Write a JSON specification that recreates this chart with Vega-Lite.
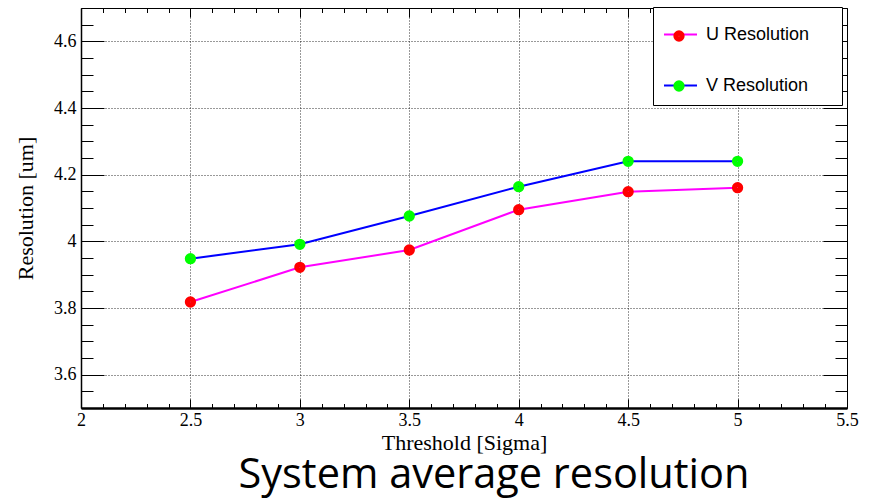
{
  "$schema": "https://vega.github.io/schema/vega-lite/v6.json",
  "width": 766,
  "height": 400,
  "autosize": {"type": "none"},
  "padding": {"left": 81, "top": 8, "right": 24, "bottom": 92},
  "background": "white",
  "config": {"view": {"stroke": null}},
  "title": {
    "text": "System average resolution",
    "orient": "bottom",
    "anchor": "middle",
    "font": "Open Sans",
    "fontSize": 41.5,
    "fontWeight": "normal",
    "color": "black",
    "dx": 30,
    "offset": 2
  },
  "data": {
    "values": [
      {"threshold": 2.5, "resolution": 3.818, "series": "U Resolution"},
      {"threshold": 3.0, "resolution": 3.922, "series": "U Resolution"},
      {"threshold": 3.5, "resolution": 3.974, "series": "U Resolution"},
      {"threshold": 4.0, "resolution": 4.095, "series": "U Resolution"},
      {"threshold": 4.5, "resolution": 4.149, "series": "U Resolution"},
      {"threshold": 5.0, "resolution": 4.161, "series": "U Resolution"},
      {"threshold": 2.5, "resolution": 3.948, "series": "V Resolution"},
      {"threshold": 3.0, "resolution": 3.991, "series": "V Resolution"},
      {"threshold": 3.5, "resolution": 4.076, "series": "V Resolution"},
      {"threshold": 4.0, "resolution": 4.164, "series": "V Resolution"},
      {"threshold": 4.5, "resolution": 4.240, "series": "V Resolution"},
      {"threshold": 5.0, "resolution": 4.240, "series": "V Resolution"}
    ]
  },
  "resolve": {"axis": {"x": "independent", "y": "independent"}},
  "layer": [
    {
      "mark": {"type": "line", "strokeWidth": 2},
      "encoding": {
        "x": {
          "field": "threshold", "type": "quantitative",
          "scale": {"domain": [2, 5.5], "nice": false, "zero": false},
          "axis": {
            "orient": "bottom", "values": [2, 2.5, 3, 3.5, 4, 4.5, 5, 5.5], "format": "~g",
            "ticks": false, "domain": true, "domainColor": "black", "domainWidth": 2.5,
            "labelFont": "Liberation Serif", "labelFontSize": 18, "labelColor": "black",
            "labelPadding": 3, "labelFlush": false, "labelOverlap": false,
            "grid": true, "gridColor": "black", "gridDash": [1, 2], "gridWidth": 1, "gridOpacity": 0.8,
            "title": "Threshold [Sigma]", "titleFont": "Liberation Serif", "titleFontSize": 22,
            "titleFontWeight": "normal", "titleColor": "black", "titlePadding": 3
          }
        },
        "y": {
          "field": "resolution", "type": "quantitative",
          "scale": {"domain": [3.5, 4.7], "nice": false, "zero": false},
          "axis": {
            "orient": "left", "values": [3.6, 3.8, 4, 4.2, 4.4, 4.6], "format": "~g",
            "ticks": false, "domain": true, "domainColor": "black", "domainWidth": 1.5,
            "labelFont": "Liberation Serif", "labelFontSize": 18, "labelColor": "black",
            "labelPadding": 5, "labelFlush": false, "labelOverlap": false,
            "grid": true, "gridColor": "black", "gridDash": [1, 2], "gridWidth": 1, "gridOpacity": 0.8,
            "title": "Resolution [um]", "titleFont": "Liberation Serif", "titleFontSize": 22,
            "titleFontWeight": "normal", "titleColor": "black", "titlePadding": 16
          }
        },
        "color": {
          "field": "series", "type": "nominal",
          "scale": {"domain": ["U Resolution", "V Resolution"], "range": ["#ff00ff", "#0000ff"]},
          "legend": {
            "orient": "none", "legendX": 572, "legendY": -1, "title": null,
            "symbolType": "M-1,0H1M8.9,0", "symbolSize": 1089, "symbolStrokeWidth": 2,
            "symbolFillColor": "transparent",
            "labelFont": "Liberation Sans", "labelFontSize": 18, "labelColor": "black",
            "labelOffset": 8, "labelLimit": 400, "padding": 10, "rowPadding": 24,
            "fillColor": "white", "strokeColor": "black"
          }
        }
      }
    },
    {
      "mark": {"type": "point", "filled": false, "shape": "circle", "size": 28, "strokeWidth": 6, "opacity": 1},
      "encoding": {
        "x": {
          "field": "threshold", "type": "quantitative",
          "axis": {"orient": "bottom", "values": [2, 2.5, 3, 3.5, 4, 4.5, 5, 5.5], "labels": false, "domain": false, "grid": false,
            "ticks": true, "tickSize": -9, "tickColor": "black", "tickWidth": 1, "title": null}
        },
        "y": {
          "field": "resolution", "type": "quantitative",
          "axis": {"orient": "left", "values": [3.6, 3.8, 4, 4.2, 4.4, 4.6], "labels": false, "domain": false, "grid": false,
            "ticks": true, "tickSize": -23, "tickColor": "black", "tickWidth": 1, "title": null}
        },
        "stroke": {
          "field": "series", "type": "nominal",
          "scale": {"range": ["#ff0000", "#00ff00"]},
          "legend": {
            "orient": "none", "legendX": 589, "legendY": 19, "title": null,
            "symbolType": "circle", "symbolSize": 28, "symbolStrokeWidth": 6, "symbolFillColor": "transparent",
            "labelFont": "Liberation Sans", "labelFontSize": 18, "labelExpr": "''",
            "padding": 0, "rowPadding": 20
          }
        }
      }
    },
    {
      "mark": {"type": "point", "opacity": 0},
      "encoding": {
        "x": {
          "field": "threshold", "type": "quantitative",
          "axis": {"orient": "bottom", "values": [2.1, 2.2, 2.3, 2.4, 2.6, 2.7, 2.8, 2.9, 3.1, 3.2, 3.3, 3.4, 3.6, 3.7, 3.8, 3.9, 4.1, 4.2, 4.3, 4.4, 4.6, 4.7, 4.8, 4.9, 5.1, 5.2, 5.3, 5.4],
            "labels": false, "domain": false, "grid": false, "ticks": true, "tickSize": -4.5, "tickColor": "black", "tickWidth": 1, "title": null}
        },
        "y": {
          "field": "resolution", "type": "quantitative",
          "axis": {"orient": "left", "values": [3.55, 3.65, 3.7, 3.75, 3.85, 3.9, 3.95, 4.05, 4.1, 4.15, 4.25, 4.3, 4.35, 4.45, 4.5, 4.55, 4.65],
            "labels": false, "domain": false, "grid": false, "ticks": true, "tickSize": -12, "tickColor": "black", "tickWidth": 1, "title": null}
        }
      }
    },
    {
      "mark": {"type": "point", "opacity": 0},
      "encoding": {
        "x": {
          "field": "threshold", "type": "quantitative",
          "axis": {"orient": "top", "values": [2, 2.5, 3, 3.5, 4, 4.5, 5, 5.5], "labels": false, "domain": true, "domainColor": "black", "domainWidth": 1,
            "grid": false, "ticks": true, "tickSize": -9, "tickColor": "black", "tickWidth": 1, "title": null}
        },
        "y": {
          "field": "resolution", "type": "quantitative",
          "axis": {"orient": "right", "values": [3.6, 3.8, 4, 4.2, 4.4, 4.6], "labels": false, "domain": true, "domainColor": "black", "domainWidth": 1,
            "grid": false, "ticks": true, "tickSize": -24, "tickColor": "black", "tickWidth": 1, "title": null}
        }
      }
    },
    {
      "mark": {"type": "point", "opacity": 0},
      "encoding": {
        "x": {
          "field": "threshold", "type": "quantitative",
          "axis": {"orient": "top", "values": [2.1, 2.2, 2.3, 2.4, 2.6, 2.7, 2.8, 2.9, 3.1, 3.2, 3.3, 3.4, 3.6, 3.7, 3.8, 3.9, 4.1, 4.2, 4.3, 4.4, 4.6, 4.7, 4.8, 4.9, 5.1, 5.2, 5.3, 5.4],
            "labels": false, "domain": false, "grid": false, "ticks": true, "tickSize": -4.5, "tickColor": "black", "tickWidth": 1, "title": null}
        },
        "y": {
          "field": "resolution", "type": "quantitative",
          "axis": {"orient": "right", "values": [3.55, 3.65, 3.7, 3.75, 3.85, 3.9, 3.95, 4.05, 4.1, 4.15, 4.25, 4.3, 4.35, 4.45, 4.5, 4.55, 4.65],
            "labels": false, "domain": false, "grid": false, "ticks": true, "tickSize": -12, "tickColor": "black", "tickWidth": 1, "title": null}
        }
      }
    }
  ]
}
